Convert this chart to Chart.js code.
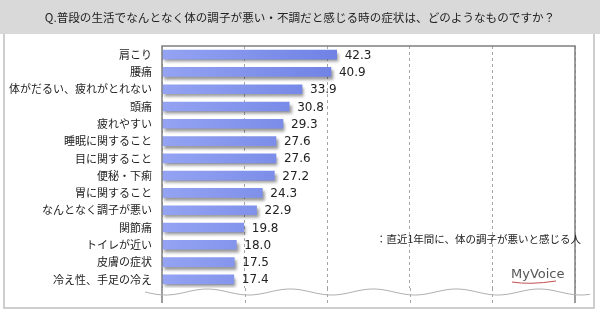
<!DOCTYPE html>
<html>
<head>
<meta charset="utf-8">
<script src="https://cdn.jsdelivr.net/npm/chart.js@4/dist/chart.umd.min.js"></script>
<style>
  body { margin: 0; background: #fff; }
  #chart { display: block; }
</style>
</head>
<body>
<canvas id="chart" width="600" height="312"></canvas>
<script>
const titleText = "Q.普段の生活でなんとなく体の調子が悪い・不調だと感じる時の症状は、どのようなものですか？";
const noteText = "：直近1年間に、体の調子が悪いと感じる人";
const logoText = "MyVoice";

const categories = [
    "肩こり", "腰痛", "体がだるい、疲れがとれない", "頭痛", "疲れやすい",
    "睡眠に関すること", "目に関すること", "便秘・下痢", "胃に関すること",
    "なんとなく調子が悪い", "関節痛", "トイレが近い", "皮膚の症状", "冷え性、手足の冷え"
];
const values = [42.3, 40.9, 33.9, 30.8, 29.3, 27.6, 27.6, 27.2, 24.3, 22.9, 19.8, 18.0, 17.5, 17.4];

const cjk = '"Noto Sans CJK JP", "Noto Sans", sans-serif';

// frame, title band, plot box, wavy break, value labels, note and logo
const decor = {
    id: "decor",
    beforeDraw(chart) {
        const c = chart.ctx;
        c.save();
        c.fillStyle = "#d9d9d9";
        c.fillRect(0, 0, 600, 34);
        c.strokeStyle = "#bfbfbf";
        c.lineWidth = 1.5;
        c.beginPath();
        c.moveTo(4, 34); c.lineTo(4, 308); c.lineTo(594, 308); c.lineTo(594, 34);
        c.stroke();
        c.fillStyle = "#222";
        c.font = "11.6px " + cjk;
        c.textAlign = "center";
        c.textBaseline = "middle";
        c.fillText(titleText, 300, 18);
        c.restore();
    },
    beforeDatasetsDraw(chart) {
        const c = chart.ctx;
        const a = chart.chartArea;
        const x = chart.scales.x;
        c.save();
        // extend dashed gridlines below the plot area
        c.strokeStyle = "#a6a6a6";
        c.lineWidth = 1;
        c.setLineDash([3, 3]);
        [20, 40, 60, 80].forEach(v => {
            const px = Math.round(x.getPixelForValue(v)) + 0.5;
            c.beginPath(); c.moveTo(px, a.bottom); c.lineTo(px, 303); c.stroke();
        });
        c.restore();
        c.save();
        c.shadowColor = "rgba(0,0,0,0.4)";
        c.shadowOffsetX = 2;
        c.shadowOffsetY = 3;
        c.shadowBlur = 3;
    },
    afterDatasetsDraw(chart) {
        const c = chart.ctx;
        c.restore();
        const a = chart.chartArea;
        c.save();
        // plot box
        c.strokeStyle = "#7f7f7f";
        c.lineWidth = 1.5;
        c.beginPath();
        c.moveTo(a.left, 303); c.lineTo(a.left, a.top); c.lineTo(a.right, a.top); c.lineTo(a.right, 303);
        c.stroke();
        // wavy break line
        c.strokeStyle = "#b0b0b0";
        c.lineWidth = 1;
        c.beginPath();
        for (let px = 145; px <= 590; px++) {
            const py = 292 + 3 * Math.sin((px - 145) / 83 * 2 * Math.PI);
            px === 145 ? c.moveTo(px, py) : c.lineTo(px, py);
        }
        c.stroke();
        // value labels
        c.fillStyle = "#222";
        c.font = '12px "DejaVu Sans", Verdana, sans-serif';
        c.textAlign = "left";
        c.textBaseline = "middle";
        chart.getDatasetMeta(0).data.forEach((bar, i) => {
            c.fillText(values[i].toFixed(1), bar.x + 8, bar.y + 1);
        });
        // note
        c.font = "10.5px " + cjk;
        c.fillStyle = "#222";
        c.fillText(noteText, 376, 239);
        // logo
        c.font = '13px "DejaVu Sans", sans-serif';
        c.fillStyle = "#555";
        c.fillText(logoText, 511, 275);
        c.strokeStyle = "#c0504d";
        c.lineWidth = 1;
        c.beginPath();
        c.moveTo(512, 282); c.quadraticCurveTo(530, 285, 556, 281);
        c.stroke();
        c.restore();
    }
};

new Chart(document.getElementById("chart").getContext("2d"), {
    type: "bar",
    data: {
        labels: categories,
        datasets: [{
            data: values,
            barThickness: 9,
            backgroundColor: (ctx) => {
                const a = ctx.chart.chartArea;
                if (!a) return "#6677dd";
                const bar = ctx.element;
                const x1 = bar && bar.x ? bar.x : a.right;
                const g = ctx.chart.ctx.createLinearGradient(a.left, 0, Math.max(x1, a.left + 1), 0);
                g.addColorStop(0, "#94a3f2");
                g.addColorStop(0.45, "#6d80e4");
                g.addColorStop(1, "#4354b8");
                return g;
            }
        }]
    },
    options: {
        indexAxis: "y",
        responsive: false,
        animation: false,
        layout: { padding: { left: 0, right: 25, top: 46, bottom: 24 } },
        plugins: { legend: { display: false }, tooltip: { enabled: false } },
        scales: {
            x: {
                min: 0, max: 100,
                ticks: { display: false, stepSize: 20 },
                grid: { color: "#a6a6a6", drawTicks: false },
                border: { display: false, dash: [3, 3] }
            },
            y: {
                afterFit: (s) => { s.width = 162; },
                ticks: { color: "#222", padding: 10, font: { family: cjk, size: 11 } },
                grid: { display: false, drawTicks: false },
                border: { display: false }
            }
        }
    },
    plugins: [decor]
});
</script>
</body>
</html>
